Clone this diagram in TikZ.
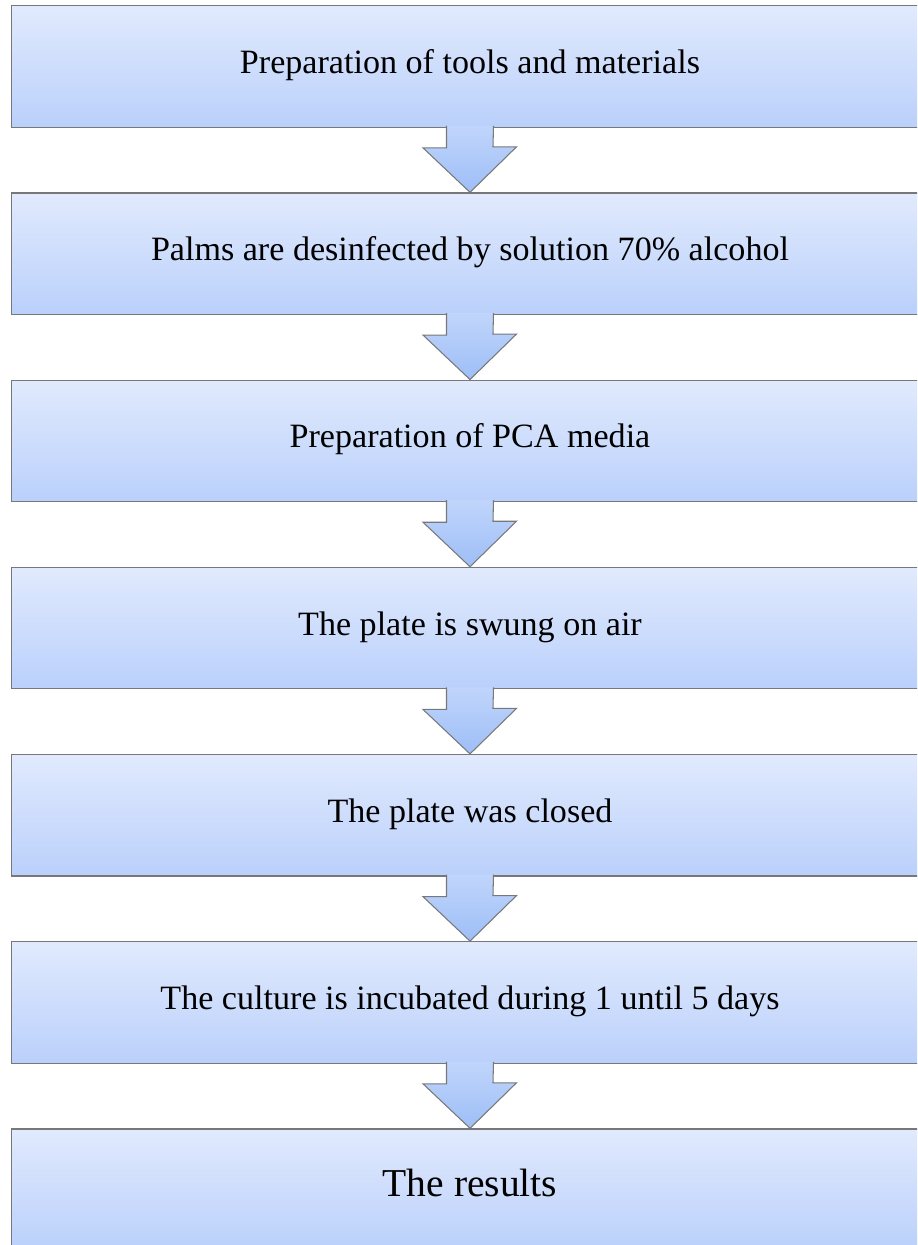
\documentclass[tikz,border=0pt]{standalone}
\usepackage{fontspec}
\setmainfont{Liberation Serif}
\usepackage{tikz}
\usetikzlibrary{positioning}
\definecolor{boxtop}{RGB}{225,234,253}
\definecolor{boxbot}{RGB}{186,208,251}
\definecolor{arrtop}{RGB}{192,213,251}
\definecolor{arrbot}{RGB}{158,190,247}
\definecolor{edgegray}{RGB}{120,120,120}
\tikzstyle{stepbox} = [draw=edgegray,line width=0.7pt,top color=boxtop,bottom color=boxbot,minimum width=18.33cm,minimum height=2.43cm,text height=1.0em,text depth=0.2em,font=\fontsize{19.4}{23}\selectfont]
\tikzstyle{blockarrow} = [draw=edgegray,line width=0.6pt,line join=miter,top color=arrtop,bottom color=arrbot]

\begin{document}
\begin{tikzpicture}[x=0.02cm,y=-0.02cm]
						\clip (0,0) rectangle (917,1245);
						
						%Nodes
						\node [stepbox] (tools) at (470,66.5) {Preparation of tools and materials};
						\node [stepbox, below=1.29cm of tools] (palms) {Palms are desinfected by solution 70\% alcohol};
						\node [stepbox, below=1.29cm of palms] (media) {Preparation of PCA media};
						\node [stepbox, below=1.29cm of media] (swung) {The plate is swung on air};
						\node [stepbox, below=1.29cm of swung] (closed) {The plate was closed};
						\node [stepbox, below=1.29cm of closed] (incub) {The culture is incubated during 1 until 5 days};
						\node [stepbox, below=1.29cm of incub, font=\fontsize{22.5}{27}\selectfont] (results) {The results};
						
						%Arrows
						\draw[blockarrow] ([xshift=-0.47cm,yshift=0.04cm]tools.south) -- ++(0,22) -- ++(-23.5,0) -- (palms.north) -- ++(46.5,-45.5) -- ++(-23.5,0) -- ([xshift=0.47cm,yshift=0.04cm]tools.south);
						\draw[blockarrow] ([xshift=-0.47cm,yshift=0.04cm]palms.south) -- ++(0,22) -- ++(-23.5,0) -- (media.north) -- ++(46.5,-45.5) -- ++(-23.5,0) -- ([xshift=0.47cm,yshift=0.04cm]palms.south);
						\draw[blockarrow] ([xshift=-0.47cm,yshift=0.04cm]media.south) -- ++(0,22) -- ++(-23.5,0) -- (swung.north) -- ++(46.5,-45.5) -- ++(-23.5,0) -- ([xshift=0.47cm,yshift=0.04cm]media.south);
						\draw[blockarrow] ([xshift=-0.47cm,yshift=0.04cm]swung.south) -- ++(0,22) -- ++(-23.5,0) -- (closed.north) -- ++(46.5,-45.5) -- ++(-23.5,0) -- ([xshift=0.47cm,yshift=0.04cm]swung.south);
						\draw[blockarrow] ([xshift=-0.47cm,yshift=0.04cm]closed.south) -- ++(0,22) -- ++(-23.5,0) -- (incub.north) -- ++(46.5,-45.5) -- ++(-23.5,0) -- ([xshift=0.47cm,yshift=0.04cm]closed.south);
						\draw[blockarrow] ([xshift=-0.47cm,yshift=0.04cm]incub.south) -- ++(0,22) -- ++(-23.5,0) -- (results.north) -- ++(46.5,-45.5) -- ++(-23.5,0) -- ([xshift=0.47cm,yshift=0.04cm]incub.south);
						
					\end{tikzpicture}
\end{document}
